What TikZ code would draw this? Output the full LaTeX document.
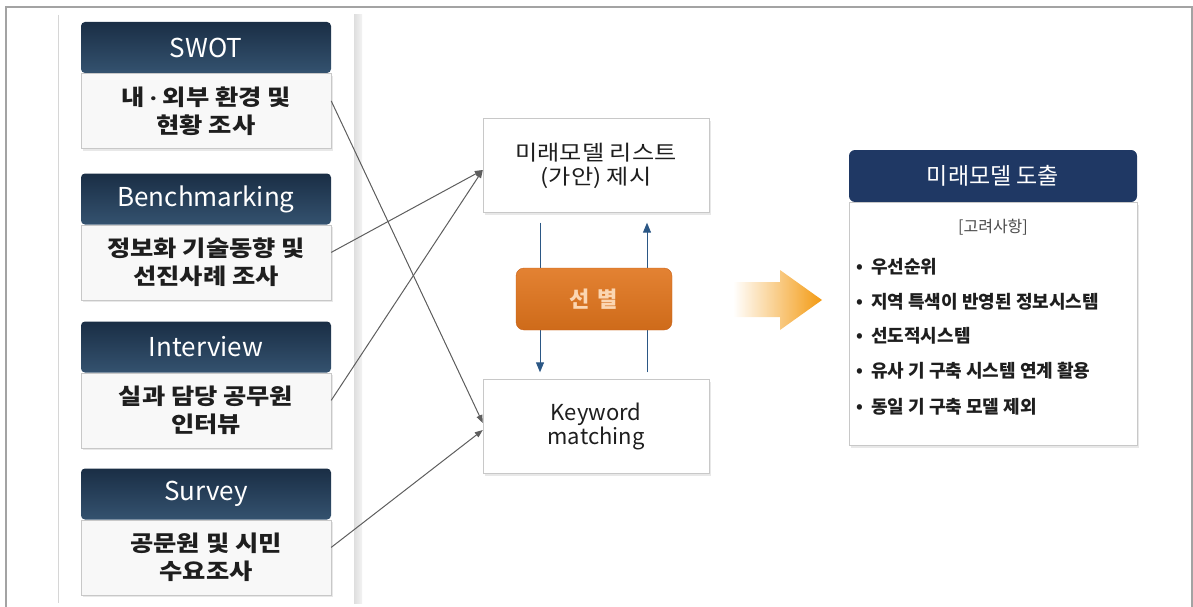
\documentclass[tikz,border=0pt]{standalone}
\usepackage{fontspec}
\setmainfont{Noto Sans CJK KR}
\newfontfamily\krwide[FakeStretch=1.15]{Noto Sans CJK KR}
\usepackage{tikz}
\usetikzlibrary{positioning,arrows.meta,shadows}

\definecolor{navy}{HTML}{1F3864}
\definecolor{hdrtop}{HTML}{1A2E45}
\definecolor{hdrbot}{HTML}{34526F}
\definecolor{boxline}{HTML}{C8C8C8}
\definecolor{boxfill}{HTML}{F8F8F8}
\definecolor{txt}{HTML}{1E1E1E}
\definecolor{linkgray}{HTML}{5E5E5E}
\definecolor{selblue}{HTML}{2B5785}
\definecolor{selorange}{HTML}{E0741C}
\definecolor{selline}{HTML}{C9621A}
\definecolor{seltext}{HTML}{FBD6B2}
\definecolor{arrowgold}{HTML}{F39A12}
\definecolor{framegray}{HTML}{A3A3A3}
\definecolor{panelgray}{HTML}{D6D6D6}

\newcommand{\bul}{\makebox[15pt][l]{\raisebox{1pt}{\fontsize{17}{17}\selectfont •}}}

\tikzset{
  boxshadow/.style={drop shadow={shadow xshift=1.5pt, shadow yshift=-2.5pt, opacity=0.18}},
  srchead/.style={rectangle, rounded corners=4pt, top color=hdrtop, bottom color=hdrbot,
    text=white, minimum width=250pt, minimum height=51pt, inner sep=0pt,
    font=\fontsize{26}{30}\selectfont},
  srcbody/.style={rectangle, draw=boxline, fill=boxfill, minimum width=250pt,
    minimum height=75pt, inner sep=0pt, align=center, text=txt, boxshadow,
    font=\krwide\bfseries\fontsize{22}{28}\selectfont},
  midbox/.style={rectangle, draw=boxline, fill=white, minimum width=226pt,
    minimum height=94pt, inner sep=0pt, align=center, text=txt, boxshadow},
  link/.style={draw=linkgray, line width=1pt, -{Triangle[width=6pt,length=8pt]}},
  selarrow/.style={draw=selblue, line width=1pt, -{Triangle[width=8pt,length=10pt]}},
  selbox/.style={rectangle, rounded corners=8pt, top color=selorange!90!white,
    bottom color=selorange!92!black, draw=selline, text=seltext,
    minimum width=156pt, minimum height=62pt,
    font=\bfseries\fontsize{22}{24}\selectfont},
  item/.style={anchor=west, inner sep=0pt, text=txt,
    font=\bfseries\fontsize{18}{22}\selectfont},
}

\begin{document}
\begin{tikzpicture}[x=1pt,y=-1pt]
            \useasboundingbox (0,0) rectangle (1193,607);
            %
            \draw[framegray, line width=1.8pt] (6,607) -- (6,7) -- (1192,7) -- (1192,607);
            %
            \draw[panelgray, line width=1pt] (58,15) -- (58,603);
            \shade[left color=panelgray!80, right color=panelgray!30] (354,15) rectangle (362,603);
            %
            \node[srchead] (swot) at (206,47.5) {SWOT};
            \node[srcbody, below=0pt of swot] (swotb) {내{\fontsize{18}{18}\selectfont\,·\,}외부 환경 및\\현황 조사};

            \node[srchead] (bench) at (206,199) {Benchmarking};
            \node[srcbody, below=0pt of bench] (benchb) {정보화 기술동향 및\\선진사례 조사};

            \node[srchead] (intv) at (206,347) {Interview};
            \node[srcbody, below=0pt of intv] (intvb) {실과 담당 공무원\\인터뷰};

            \node[srchead] (surv) at (206,494) {Survey};
            \node[srcbody, below=0pt of surv] (survb) {공문원 및 시민\\수요조사};
            %
            \node[midbox, font=\krwide\fontsize{21}{24}\selectfont] (cand) at (596,165.5) {미래모델 리스트\\(가안) 제시};
            \node[midbox, font=\fontsize{22}{24}\selectfont] (kwd) at (596,426.5) {Keyword\\matching};
            %
            \draw[link] ([yshift=10pt]swotb.east) -- ([yshift=3.5pt]kwd.west);
            \draw[link] ([yshift=10pt]benchb.east) -- ([yshift=-4.5pt]cand.west);
            \draw[link] ([yshift=10pt]intvb.east) -- ([yshift=-4.5pt]cand.west);
            \draw[link] ([yshift=10pt]survb.east) -- ([yshift=-3.5pt]kwd.west);
            %
            \draw[selarrow] ([xshift=-56pt,yshift=-10pt]cand.south) -- ([xshift=-56pt,yshift=7pt]kwd.north);
            \draw[selarrow] ([xshift=51pt,yshift=7pt]kwd.north) -- ([xshift=51pt,yshift=-10pt]cand.south);
            \node[selbox] (sel) at (594,299) {선\hspace{8pt}별};
            %
            \shade[left color=white, right color=arrowgold]
              (733,282) -- (780,282) -- (780,270) -- (822,300) -- (780,330) -- (780,317) -- (733,317) -- cycle;
            %
            \node[rectangle, rounded corners=6pt, fill=navy, text=white, minimum width=288pt,
              minimum height=52pt, inner sep=0pt, font=\fontsize{23}{26}\selectfont] (out) at (993,176) {미래모델 도출};
            \node[rectangle, draw=boxline, fill=white, minimum width=288pt, minimum height=243pt,
              inner sep=0pt, boxshadow, below=0pt of out] (outb) {};
            \node[text=txt!80, font=\fontsize{16}{20}\selectfont] (cons) at (993,227) {[고려사항]};
            %
            \node[item] (itm1) at (856,267) {\bul 우선순위};
            \node[item] (itm2) at (856,302) {\bul 지역 특색이 반영된 정보시스템};
            \node[item] (itm3) at (856,336) {\bul 선도적시스템};
            \node[item] (itm4) at (856,371) {\bul 유사 기 구축 시스템 연계 활용};
            \node[item] (itm5) at (856,407) {\bul 동일 기 구축 모델 제외};
        \end{tikzpicture}
\end{document}
